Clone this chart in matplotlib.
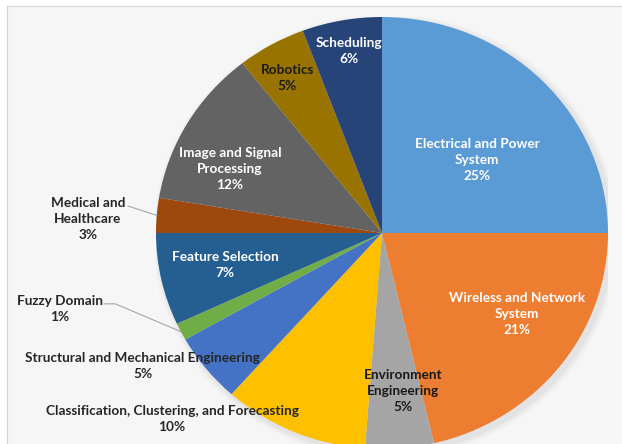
import matplotlib
matplotlib.use('Agg')
import matplotlib.pyplot as plt
from matplotlib.patches import Rectangle, Ellipse
import numpy as np

# slice shares (percent), clockwise from 12 o'clock
categories = [
    "Electrical and Power\nSystem",
    "Wireless and Network\nSystem",
    "Environment\nEngineering",
    "Classification, Clustering, and Forecasting",
    "Structural and Mechanical Engineering",
    "Fuzzy Domain",
    "Feature Selection",
    "Medical and\nHealthcare",
    "Image and Signal\nProcessing",
    "Robotics",
    "Scheduling",
]
shares = [25.0, 21.3, 4.9, 10.4, 5.2, 1.3, 6.9, 2.6, 11.8, 4.9, 5.7]

colors = ['#5B9BD5', '#ED7D31', '#A5A5A5', '#FFC000', '#4472C4', '#70AD47',
          '#255E91', '#9E480E', '#636363', '#997300', '#264478']
text_colors = ['white', 'white', '#1a1a1a', '#262626', '#262626', '#262626',
               'white', '#262626', 'white', '#1a1a1a', 'white']

# label centres in pie units (radius = 1)
label_xy = [(0.42, 0.338), (0.597, -0.375), (0.093, -0.731), (-0.929, -0.861),
            (-1.058, -0.616), (-1.425, -0.352), (-0.695, -0.148), (-1.301, 0.065),
            (-0.673, 0.296), (-0.42, 0.718), (-0.146, 0.843)]
# leader lines start (label side), index -> point
leader_start = {7: [(-1.124, 0.125)], 5: [(-1.23, -0.328), (-1.18, -0.328)]}

W, H = 622, 444
fig = plt.figure(figsize=(W / 100, H / 100), dpi=100)
fig.patch.set_facecolor('white')
fig.patches.append(Rectangle((7 / W, -0.02), 1.0, 1 - 6 / H + 0.02,
                             transform=fig.transFigure, facecolor='#F6F6F6',
                             edgecolor='#D4D4D4', linewidth=0.8, zorder=-5))

# pie centre (382, 233) px, radii 226 x 216 px
cx, cy, rx, ry = 382, 233, 226, 216
ax = fig.add_axes([(cx - rx) / W, (H - cy - ry) / H, 2 * rx / W, 2 * ry / H])
ax.patch.set_alpha(0)

wedges, _ = ax.pie(shares, colors=colors, startangle=90, counterclock=False,
                   radius=1.0, wedgeprops=dict(linewidth=0))

# soft shadow
for k, a in enumerate([0.04, 0.05, 0.07]):
    s = 1.0 + 0.01 * (3 - k)
    ax.add_patch(Ellipse((0.015, -0.015), 2 * s, 2 * s, facecolor='#808080',
                         alpha=a, edgecolor='none', zorder=0))

ax.set_aspect('auto')
ax.set_xlim(-1, 1)
ax.set_ylim(-1, 1)
ax.axis('off')

for i, (lab, val) in enumerate(zip(categories, shares)):
    x, y = label_xy[i]
    ax.text(x, y, f"{lab}\n{round(val)}%", ha='center', va='center',
            fontsize=9.8, fontweight='bold', family=['Lato', 'DejaVu Sans'],
            color=text_colors[i], linespacing=1.37, clip_on=False, zorder=5)

for i, pts in leader_start.items():
    w = wedges[i]
    mid = np.deg2rad((w.theta1 + w.theta2) / 2)
    end = (np.cos(mid), np.sin(mid))
    xs = [p[0] for p in pts] + [end[0]]
    ys = [p[1] for p in pts] + [end[1]]
    ax.plot(xs, ys, color='#A6A6A6', linewidth=0.8, clip_on=False, zorder=4)

fig.savefig('out.png', dpi=100)
